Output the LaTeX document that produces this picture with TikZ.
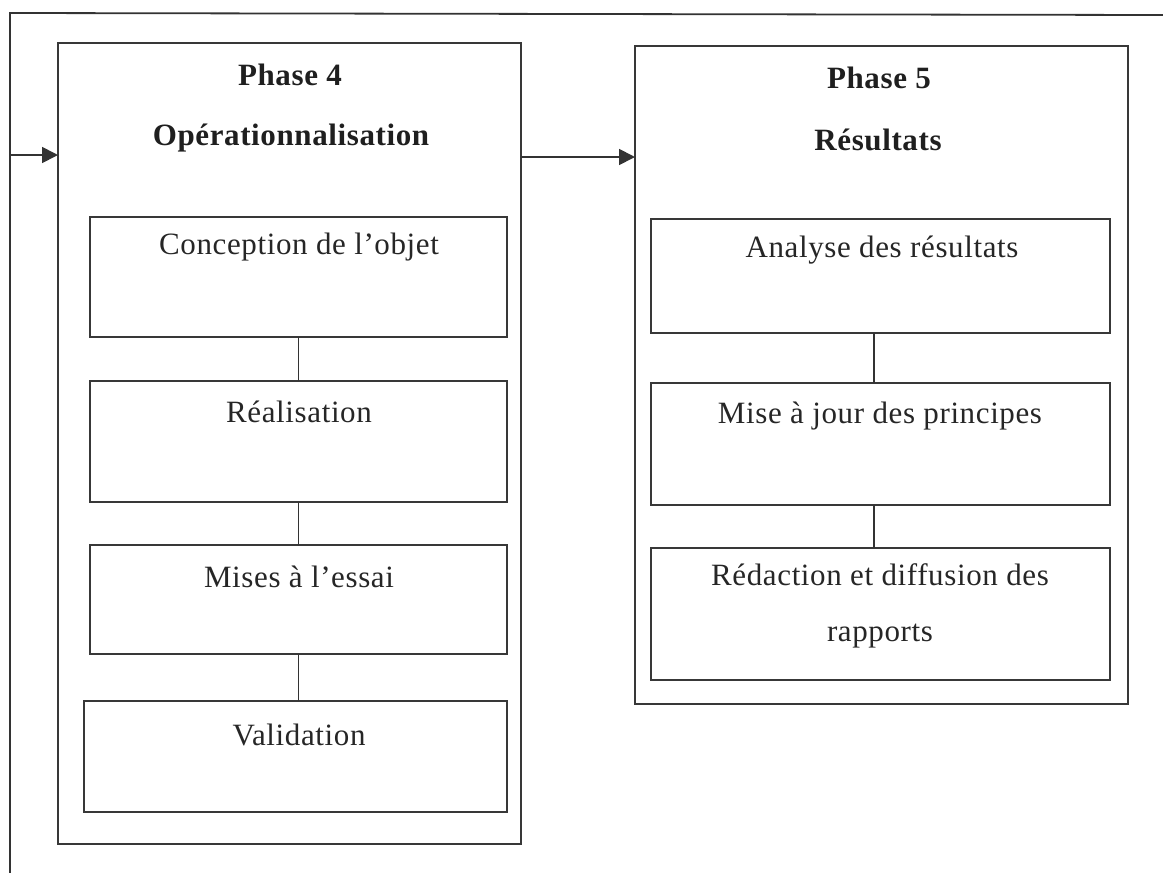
\documentclass[tikz,border=0pt]{standalone}
\usepackage{fontspec}
\setmainfont{Liberation Serif}[LetterSpace=2]
\usetikzlibrary{arrows.meta}
\begin{document}
\begin{tikzpicture}[x=1pt,y=-1pt,
  frame/.style={draw=black!78, line width=2pt},
  panel/.style={frame, inner sep=0pt, outer sep=0pt},
  link/.style={draw=black!80, line width=1.8pt},
  flow/.style={link, -{Triangle[length=16pt,width=16pt]}},
  title/.style={text=black!88, font=\fontsize{31}{36}\selectfont\bfseries, inner sep=0pt},
  label/.style={text=black!85, font=\fontsize{31}{37}\selectfont, inner sep=0pt, align=center}
]
\useasboundingbox (0,0) rectangle (1163,873);

% frame of the loop coming back from the earlier phases
\coordinate (tl) at (10,13);
\coordinate (tr) at (1163,15);
\coordinate (bl) at (10,873);
\coordinate (in4) at (10,155);
\draw[link] (tr) -- (tl) -- (bl);

% phase panels
\node[panel, minimum width=463pt, minimum height=801pt] (p4) at (289.5,443.5) {};
\node[panel, minimum width=493pt, minimum height=658pt] (p5) at (881.5,375) {};

\coordinate (out4) at (521,157);
\draw[flow] (in4) -- (in4 -| p4.west);
\draw[flow] (out4) -- (out4 -| p5.west);

% phase titles
\node[title] (h4a) at (290,75) {Phase 4};
\node[title] (h4b) at (291,138) {Opérationnalisation};
\node[title] (h5a) at (879,78) {Phase 5};
\node[title] (h5b) at (878,140) {Résultats};

% steps of phase 4
\node[panel, minimum width=417pt, minimum height=120pt] (b1) at (298.5,277) {};
\node[panel, minimum width=417pt, minimum height=121pt] (b2) at (298.5,441.5) {};
\node[panel, minimum width=417pt, minimum height=109pt] (b3) at (298.5,599.5) {};
\node[panel, minimum width=423pt, minimum height=111pt] (b4) at (295.5,756.5) {};

\node[label] (l1) at (299,247) {Conception de l’objet};
\node[label] (l2) at (299,412) {Réalisation};
\node[label] (l3) at (299,577) {Mises à l’essai};
\node[label] (l4) at (299,735) {Validation};

\draw[link] (b1.south) -- (b2.north);
\draw[link] (b2.south) -- (b3.north);
\draw[link] (b3.south) -- (b3.south |- b4.north);

% steps of phase 5
\node[panel, minimum width=459pt, minimum height=114pt] (c1) at (880.5,276) {};
\node[panel, minimum width=459pt, minimum height=122pt] (c2) at (880.5,444) {};
\node[panel, minimum width=459pt, minimum height=132pt] (c3) at (880.5,614) {};

\node[label] (m1) at (882,250) {Analyse des résultats};
\node[label] (m2) at (880,416) {Mise à jour des principes};
\node[label, font=\fontsize{31}{56}\selectfont] (m3) at (880,606) {Rédaction et diffusion des\\rapports};

\draw[link] ([xshift=-6.5pt]c1.south) -- ([xshift=-6.5pt]c2.north);
\draw[link] ([xshift=-6.5pt]c2.south) -- ([xshift=-6.5pt]c3.north);
\end{tikzpicture}
\end{document}
